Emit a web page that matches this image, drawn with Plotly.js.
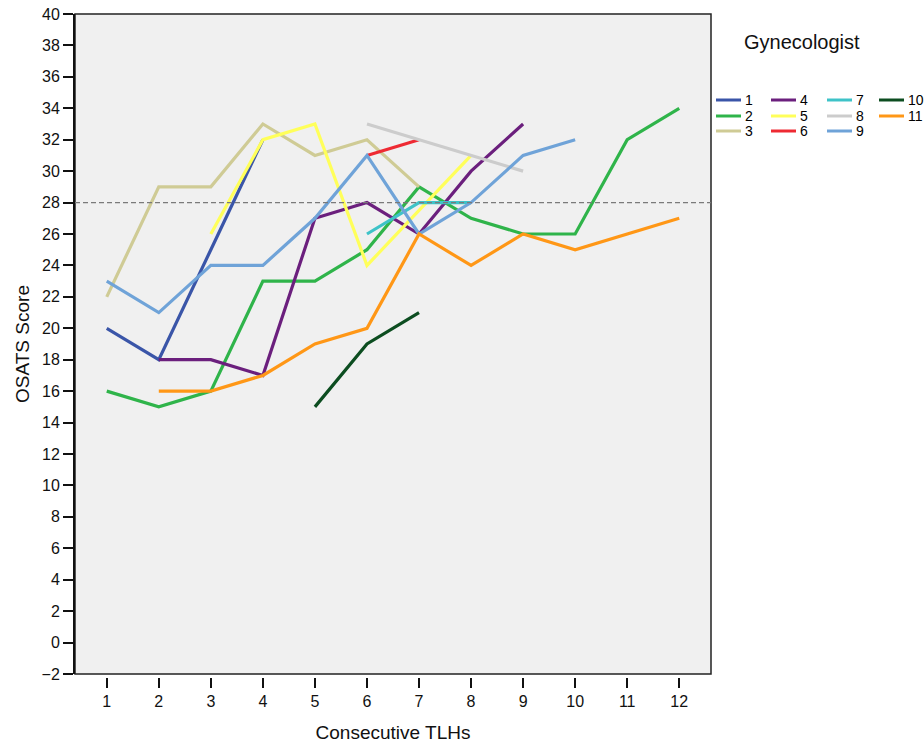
<!DOCTYPE html>
<html>
<head>
<meta charset="utf-8">
<script src="https://cdn.plot.ly/plotly-3.0.1.min.js"></script>
<style>html,body{margin:0;padding:0;background:#fff;}#chart{width:924px;height:744px;}</style>
</head>
<body>
<div id="chart"></div>
<script>
// ---- data ----
const tlh = [1, 2, 3, 4, 5, 6, 7, 8, 9, 10, 11, 12];
const gynecologists = ['1', '2', '3', '4', '5', '6', '7', '8', '9', '10', '11'];
const g1  = [20, 18, 25, 32, null, null, null, null, null, null, null, null];
const g2  = [16, 15, 16, 23, 23, 25, 29, 27, 26, 26, 32, 34];
const g3  = [22, 29, 29, 33, 31, 32, 29, null, null, null, null, null];
const g4  = [null, 18, 18, 17, 27, 28, 26, 30, 33, null, null, null];
const g5  = [null, null, 26, 32, 33, 24, 27.5, 31, null, null, null, null];
const g6  = [null, null, null, null, null, 31, 32, null, null, null, null, null];
const g7  = [null, null, null, null, null, 26, 28, 28, null, null, null, null];
const g8  = [null, null, null, null, null, 33, 32, 31, 30, null, null, null];
const g9  = [23, 21, 24, 24, 27, 31, 26, 28, 31, 32, null, null];
const g10 = [null, null, null, null, 15, 19, 21, null, null, null, null, null];
const g11 = [null, 16, 16, 17, 19, 20, 26, 24, 26, 25, 26, 27];
const scores = [g1, g2, g3, g4, g5, g6, g7, g8, g9, g10, g11];
const yTicks = [-2, 0, 2, 4, 6, 8, 10, 12, 14, 16, 18, 20, 22, 24, 26, 28, 30, 32, 34, 36, 38, 40];
const threshold = 28;

// ---- styles ----
const colors = ['#3a55a8', '#2fb44a', '#cfcb95', '#6b1f7d', '#ffff5a', '#ee2a33',
                '#3ec3c8', '#cccccc', '#6fa3d8', '#0c4d20', '#ff9716'];
const FONT = '"Liberation Sans", Arial, sans-serif';
const M = {l: 75, r: 213, t: 14, b: 67};
const W = 924, H = 744;
const PW = W - M.l - M.r, PH = H - M.t - M.b;
const px2x = p => (p - M.l) / PW;
const py2y = p => (H - M.b - p) / PH;

const traces = scores.map((s, i) => ({
  type: 'scatter', mode: 'lines', x: tlh, y: s, name: gynecologists[i],
  line: {color: colors[i], width: 3.2}, connectgaps: false, showlegend: false,
  hoverinfo: 'x+y+name'
}));

const shapes = [
  {type: 'rect', xref: 'x domain', yref: 'y domain', x0: 0, x1: 1, y0: 0, y1: 1,
   fillcolor: '#f0f0f0', line: {color: '#222', width: 1.5}, layer: 'below'},
  {type: 'line', xref: 'x domain', yref: 'y', x0: 0, x1: 1, y0: threshold, y1: threshold,
   line: {color: '#7a7a7a', width: 1.2, dash: '5px,3px'}, layer: 'above'}
];
const annotations = [
  {xref: 'paper', yref: 'paper', x: px2x(802), y: py2y(42), text: 'Gynecologist',
   showarrow: false, xanchor: 'center', yanchor: 'middle',
   font: {family: FONT, size: 20, color: '#111'}}
];
// manual legend, column-major: 3 rows per column
const colX = [716, 771, 827, 879];
const rowY = [100, 116, 131];
gynecologists.forEach((g, i) => {
  const c = Math.floor(i / 3), r = i % 3;
  const x0 = colX[c], y0 = rowY[r];
  shapes.push({type: 'line', xref: 'paper', yref: 'paper',
    x0: px2x(x0), x1: px2x(x0 + 25), y0: py2y(y0), y1: py2y(y0),
    line: {color: colors[i], width: 3}});
  annotations.push({xref: 'paper', yref: 'paper', x: px2x(x0 + 27), y: py2y(y0),
    text: g, showarrow: false, xanchor: 'left', yanchor: 'middle',
    font: {family: FONT, size: 14, color: '#000'}});
});

const layout = {
  width: W, height: H, margin: M,
  paper_bgcolor: '#ffffff', plot_bgcolor: '#ffffff',
  font: {family: FONT, color: '#111'},
  showlegend: false,
  xaxis: {
    range: [0.39, 12.61], anchor: 'free', position: 0,
    tickvals: tlh, ticktext: tlh.map(String),
    ticks: 'outside', ticklen: 10, tickwidth: 1.5, tickcolor: '#111',
    showline: false, showgrid: false, zeroline: false,
    tickfont: {family: FONT, size: 16, color: '#111'},
    title: {text: 'Consecutive TLHs', font: {family: FONT, size: 19, color: '#111'}, standoff: 16}
  },
  yaxis: {
    range: [-2, 40], domain: [3 / PH, 1],
    tickvals: yTicks, ticks: 'outside', ticklen: 10, tickwidth: 1.5, tickcolor: '#111',
    showline: true, linecolor: '#111', linewidth: 2, mirror: false,
    showgrid: false, zeroline: false,
    tickfont: {family: FONT, size: 16, color: '#111'},
    title: {text: 'OSATS Score', font: {family: FONT, size: 19, color: '#111'}, standoff: 7}
  },
  shapes: shapes,
  annotations: annotations
};

Plotly.newPlot('chart', traces, layout, {displayModeBar: false});
</script>
</body>
</html>
